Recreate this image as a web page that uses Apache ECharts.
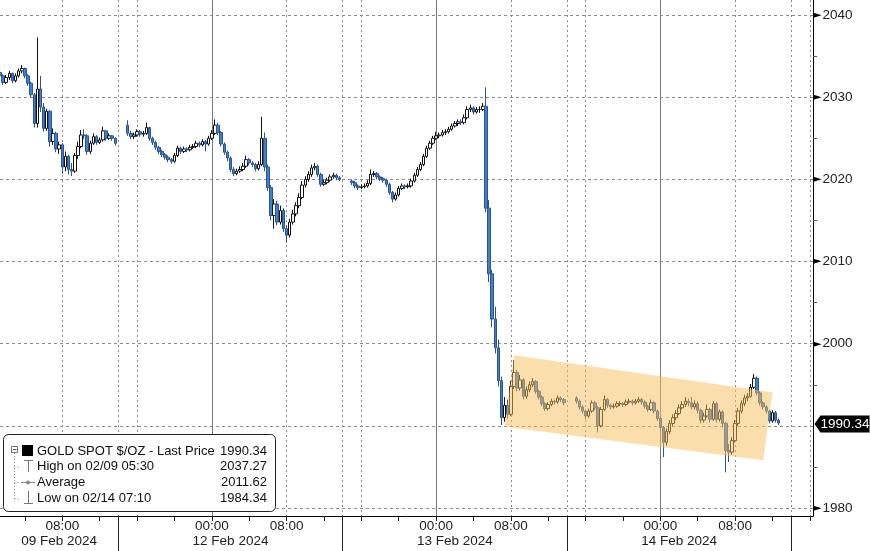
<!DOCTYPE html>
<html>
<head>
<meta charset="utf-8">
<script src="https://cdn.jsdelivr.net/npm/echarts@6/dist/echarts.min.js"></script>
<style>
html,body{margin:0;padding:0;background:#fff;}
#chart{width:870px;height:551px;}
</style>
</head>
<body>
<div id="chart"></div>
<script>
// ---------------- DATA ----------------
// 20-minute OHLC bars, [open, close, low, high]; times are US Pacific (weekend collapsed)
const feb09Start = '02/09 01:20';
const feb09Bars = [
[2033.0,2032.6,2032.2,2033.4],[2032.6,2031.8,2031.5,2032.8],[2031.8,2032.4,2031.6,2032.7],[2032.4,2032.9,2032.1,2033.2],
[2032.9,2032.0,2031.7,2033.0],[2032.0,2032.6,2031.8,2032.9],[2032.6,2033.2,2032.4,2033.5],[2033.2,2033.5,2032.9,2033.9],
[2033.5,2032.6,2032.3,2033.6],[2032.6,2031.7,2031.4,2032.8],[2031.7,2030.3,2029.9,2031.9],[2030.3,2026.8,2026.3,2030.5],
[2026.8,2031.0,2026.3,2037.27],[2031.0,2028.8,2028.2,2032.6],[2028.8,2026.2,2025.8,2029.3],[2026.2,2028.3,2025.9,2028.6],
[2028.3,2024.6,2024.0,2028.4],[2024.6,2025.6,2024.2,2026.2],[2025.6,2023.7,2023.3,2025.8],[2023.7,2024.2,2023.1,2024.6],
[2024.2,2021.5,2020.7,2024.4],[2021.5,2022.8,2021.0,2023.4],[2022.8,2021.2,2020.6,2023.0],[2021.2,2021.0,2020.4,2022.0],
[2021.0,2022.9,2020.8,2023.2],[2022.9,2024.0,2022.5,2024.6],[2024.0,2025.4,2023.8,2026.0],[2025.4,2025.3,2024.9,2026.1],
[2025.3,2023.4,2023.0,2025.5],[2023.4,2024.4,2023.1,2024.7],[2024.4,2025.2,2024.2,2025.6],[2025.2,2024.5,2024.2,2025.4],
[2024.5,2024.8,2024.3,2025.1],[2024.8,2025.9,2024.6,2026.4],[2025.9,2025.0,2024.7,2026.0],[2025.0,2025.3,2024.8,2025.6],
[2025.3,2025.0,2024.7,2025.4],[2025.0,2024.4,2024.1,2025.1]
];
const feb12Start = '02/11 15:00';
const feb12Bars = [
[2026.6,2025.6,2025.3,2027.2],[2025.6,2025.2,2024.9,2025.9],[2025.2,2025.4,2024.9,2025.7],[2025.4,2025.8,2025.2,2026.1],
[2025.8,2025.5,2025.2,2026.0],[2025.5,2025.6,2025.2,2025.9],[2025.6,2026.3,2025.4,2026.9],[2026.3,2025.0,2024.7,2026.4],
[2025.0,2024.5,2024.2,2025.2],[2024.5,2023.9,2023.6,2024.7],[2023.9,2023.4,2023.1,2024.1],[2023.4,2023.0,2022.7,2023.6],
[2023.0,2022.7,2022.4,2023.2],[2022.7,2022.4,2022.1,2022.9],[2022.4,2022.2,2021.9,2022.6],[2022.2,2022.9,2022.0,2023.2],
[2022.9,2023.8,2022.7,2024.1],[2023.8,2023.4,2023.1,2024.0],[2023.4,2023.7,2023.2,2024.0],[2023.7,2023.6,2023.3,2023.9],
[2023.6,2023.9,2023.4,2024.2],[2023.9,2024.0,2023.7,2024.3],[2024.0,2024.4,2023.8,2024.7],[2024.4,2024.2,2023.9,2024.6],
[2024.2,2024.6,2024.0,2024.9],[2024.6,2024.3,2023.4,2024.8],[2024.3,2025.0,2024.1,2025.3],[2025.0,2025.6,2024.8,2026.0],
[2025.6,2026.6,2025.4,2027.3],[2026.6,2025.7,2025.4,2026.9],[2025.7,2024.3,2024.0,2025.9],[2024.3,2023.3,2023.0,2024.5],
[2023.3,2022.6,2022.2,2023.5],[2022.6,2021.2,2020.9,2022.8],[2021.2,2020.7,2020.4,2021.5],[2020.7,2021.0,2020.5,2021.3],
[2021.0,2021.2,2020.8,2021.6],[2021.2,2021.6,2021.0,2022.0],[2021.6,2022.4,2021.4,2022.9],[2022.4,2022.0,2021.7,2022.6],
[2022.0,2021.8,2021.5,2022.2],[2021.8,2021.3,2021.0,2022.0],[2021.3,2021.8,2021.1,2022.2],[2021.8,2025.0,2021.6,2027.6],
[2025.0,2021.5,2021.0,2025.7],[2021.5,2019.0,2018.6,2021.8],[2019.0,2015.6,2015.0,2019.3],[2015.6,2017.0,2014.0,2017.6],
[2017.0,2014.8,2014.4,2017.4],[2014.8,2016.2,2014.5,2016.8],[2016.2,2014.0,2013.6,2016.5],[2014.0,2013.2,2012.3,2014.4],
[2013.2,2014.8,2012.9,2015.2],[2014.8,2015.8,2014.5,2016.3],[2015.8,2016.8,2015.5,2017.2],[2016.8,2017.8,2016.5,2018.3],
[2017.8,2019.3,2017.6,2019.8],[2019.3,2020.0,2019.0,2020.4],[2020.0,2020.6,2019.7,2021.0],[2020.6,2021.4,2020.3,2021.8],
[2021.4,2021.6,2021.1,2022.0],[2021.6,2020.6,2020.3,2021.8],[2020.6,2019.4,2019.1,2020.8],[2019.4,2019.6,2019.2,2020.0],
[2019.6,2019.9,2019.4,2020.2],[2019.9,2020.3,2019.7,2020.6],[2020.3,2020.5,2020.1,2020.8],[2020.5,2020.2,2019.9,2020.7],
[2020.2,2020.0,2019.8,2020.4]
];
const feb13Start = '02/12 15:00';
const feb13Bars = [
[2019.8,2019.6,2019.3,2020.0],[2019.6,2019.2,2018.9,2019.8],[2019.2,2019.0,2018.7,2019.4],[2019.0,2019.1,2018.8,2019.4],
[2019.1,2019.2,2018.9,2019.5],[2019.2,2019.5,2019.0,2019.9],[2019.5,2020.6,2019.3,2021.2],[2020.6,2020.7,2020.3,2021.0],
[2020.7,2020.3,2020.0,2020.9],[2020.3,2020.1,2019.8,2020.5],[2020.1,2019.9,2019.6,2020.3],[2019.9,2019.4,2019.1,2020.1],
[2019.4,2018.4,2018.1,2019.6],[2018.4,2017.6,2017.2,2018.6],[2017.6,2018.1,2017.4,2018.4],[2018.1,2018.9,2017.9,2019.2],
[2018.9,2019.2,2018.7,2019.5],[2019.2,2019.1,2018.8,2019.4],[2019.1,2019.2,2018.9,2019.5],[2019.2,2019.8,2019.0,2020.1],
[2019.8,2020.5,2019.6,2020.8],[2020.5,2021.2,2020.3,2021.5],[2021.2,2021.8,2021.0,2022.1],[2021.8,2022.8,2021.6,2023.1],
[2022.8,2023.8,2022.6,2024.1],[2023.8,2024.4,2023.6,2024.7],[2024.4,2025.0,2024.2,2025.3],[2025.0,2025.3,2024.8,2025.8],
[2025.3,2025.4,2025.0,2025.7],[2025.4,2025.7,2025.2,2026.0],[2025.7,2025.8,2025.4,2026.1],[2025.8,2026.1,2025.6,2026.4],
[2026.1,2026.5,2025.9,2026.8],[2026.5,2026.8,2026.3,2027.1],[2026.8,2027.0,2026.5,2027.3],[2027.0,2026.9,2026.6,2027.3],
[2026.9,2027.5,2026.7,2027.9],[2027.5,2028.5,2027.3,2028.9],[2028.5,2028.7,2028.2,2029.1],[2028.7,2028.2,2027.9,2028.9],
[2028.2,2028.5,2028.0,2028.8],[2028.5,2028.5,2028.1,2028.9],[2028.5,2028.9,2028.3,2029.3],[2028.9,2016.5,2016.0,2031.2],
[2016.5,2008.5,2007.5,2017.5],[2008.5,2003.0,2002.0,2009.0],[2003.0,1999.5,1998.8,2004.5],[1999.5,1995.5,1994.8,2000.5],
[1995.5,1991.0,1990.1,1996.0],[1991.0,1992.5,1990.5,1993.5],[1992.5,1991.4,1990.9,1993.2],[1991.4,1994.8,1991.2,1995.5],
[1994.8,1996.5,1994.5,1998.0],[1996.5,1994.6,1994.2,1996.8],[1994.6,1995.6,1994.3,1996.2],[1995.6,1993.6,1993.2,1995.8],
[1993.6,1994.4,1993.3,1994.8],[1994.4,1995.0,1994.1,1995.4],[1995.0,1995.4,1994.7,1995.8],[1995.4,1994.2,1993.9,1995.6],
[1994.2,1993.5,1993.2,1994.4],[1993.5,1992.7,1992.4,1993.7],[1992.7,1992.1,1991.8,1992.9],[1992.1,1992.6,1991.9,1992.9],
[1992.6,1993.0,1992.4,1993.3],[1993.0,1992.9,1992.6,1993.2],[1992.9,1993.4,1992.7,1993.7],[1993.4,1993.2,1992.9,1993.6],
[1993.2,1992.8,1992.5,1993.4]
];
const feb14Start = '02/13 15:00';
const feb14Bars = [
[1993.4,1993.0,1992.7,1993.6],[1993.0,1992.3,1992.0,1993.2],[1992.3,1991.8,1991.5,1992.5],[1991.8,1991.2,1990.8,1992.0],
[1991.2,1991.8,1991.0,1992.1],[1991.8,1992.8,1991.6,1993.1],[1992.8,1992.2,1991.9,1993.0],[1992.2,1990.0,1989.2,1992.4],
[1990.0,1992.0,1989.8,1992.3],[1992.0,1993.2,1991.8,1993.7],[1993.2,1992.5,1992.2,1993.4],[1992.5,1992.3,1992.0,1992.7],
[1992.3,1992.4,1992.1,1992.7],[1992.4,1992.7,1992.2,1993.0],[1992.7,1992.7,1992.4,1993.0],[1992.7,1992.6,1992.3,1992.9],
[1992.6,1992.9,1992.4,1993.2],[1992.9,1993.0,1992.7,1993.3],[1993.0,1992.8,1992.5,1993.2],[1992.8,1993.0,1992.6,1993.3],
[1993.0,1993.2,1992.8,1993.5],[1993.2,1992.9,1992.6,1993.4],[1992.9,1992.4,1992.1,1993.1],[1992.4,1992.0,1991.7,1992.6],
[1992.0,1992.8,1991.8,1993.2],[1992.8,1991.8,1991.5,1993.0],[1991.8,1990.9,1990.6,1992.0],[1990.9,1989.8,1989.4,1991.1],
[1989.8,1988.0,1986.2,1990.0],[1988.0,1989.3,1987.6,1989.7],[1989.3,1990.3,1989.0,1990.7],[1990.3,1991.0,1990.0,1991.4],
[1991.0,1991.5,1990.7,1991.9],[1991.5,1992.2,1991.3,1992.6],[1992.2,1992.6,1992.0,1993.0],[1992.6,1993.0,1992.3,1993.5],
[1993.0,1992.8,1992.4,1993.3],[1992.8,1992.3,1992.0,1993.5],[1992.3,1992.7,1992.0,1993.1],[1992.7,1991.9,1991.5,1993.0],
[1991.9,1990.7,1990.3,1992.1],[1990.7,1991.2,1990.4,1991.6],[1991.2,1992.0,1991.0,1992.6],[1992.0,1990.8,1990.4,1992.2],
[1990.8,1992.7,1990.6,1993.0],[1992.7,1990.8,1990.4,1992.9],[1990.8,1991.7,1990.5,1992.0],[1991.7,1990.3,1989.8,1991.9],
[1990.3,1987.0,1984.34,1990.5],[1987.0,1986.8,1985.6,1987.8],[1986.8,1988.2,1986.5,1988.6],[1988.2,1990.3,1988.0,1990.7],
[1990.3,1991.8,1990.0,1992.2],[1991.8,1992.7,1991.5,1993.1],[1992.7,1993.4,1992.4,1993.8],[1993.4,1993.6,1993.0,1994.0],
[1993.6,1994.7,1993.4,1995.1],[1994.7,1995.8,1994.5,1996.3],[1995.8,1994.0,1993.7,1996.0],[1994.0,1992.8,1992.5,1994.2],
[1992.8,1992.3,1992.0,1993.0],[1992.3,1991.8,1991.5,1992.5],[1991.8,1990.6,1990.3,1992.0],[1990.6,1991.6,1990.4,1991.9],
[1991.6,1990.7,1990.4,1991.8],[1990.7,1990.34,1990.1,1990.9]
];
const lastPrice = 1990.34;
const legendRows = [
  {label: 'GOLD SPOT $/OZ - Last Price', value: '1990.34'},
  {label: 'High on 02/09 05:30', value: '2037.27'},
  {label: 'Average', value: '2011.62'},
  {label: 'Low on 02/14 07:10', value: '1984.34'}
];
const yTickLabels = [1980, 2000, 2010, 2020, 2030, 2040];
const timeTickLabels = ['00:00', '08:00'];
const dateLabels = {'02/09 07:40': '09 Feb 2024', '02/12 02:00': '12 Feb 2024', '02/13 02:00': '13 Feb 2024', '02/14 02:00': '14 Feb 2024'};
// shaded channel corners [time, price]
const channel = [['02/13 08:20', 1998.6], ['02/14 12:00', 1994.1], ['02/14 11:00', 1985.8], ['02/13 07:20', 1989.9]];

// ---------------- CATEGORIES (20-min slots, weekend collapsed) ----------------
const categories = [];
for (let k = 0; k < 262; k++) {
  const m = 80 + 20 * k;
  let day, hm;
  if (m < 840) { day = '02/09'; hm = m; }
  else if (m < 1440) { day = '02/11'; hm = m; }
  else { const d = Math.floor((m - 1440) / 1440); day = ['02/12', '02/13', '02/14'][d]; hm = m - 1440 - 1440 * d; }
  const hh = Math.floor(hm / 60), mm = hm % 60;
  categories.push(day + ' ' + String(hh).padStart(2, '0') + ':' + String(mm).padStart(2, '0'));
}
const candles = categories.map(() => ['-', '-', '-', '-']);
[[feb09Start, feb09Bars], [feb12Start, feb12Bars], [feb13Start, feb13Bars], [feb14Start, feb14Bars]].forEach(([s, bars]) => {
  const i0 = categories.indexOf(s);
  bars.forEach((b, j) => { candles[i0 + j] = b; });
});

const FF = "'Liberation Sans', Arial, sans-serif";
const hourOf = v => parseInt(v.slice(6, 8), 10);
const minOf = v => parseInt(v.slice(9, 11), 10);

const chart = echarts.init(document.getElementById('chart'), null, {renderer: 'canvas'});

const legendGraphics = [];
legendGraphics.push({type: 'rect', shape: {x: 3.5, y: 434.5, width: 272, height: 77, r: 5}, style: {fill: '#fff', stroke: '#222', lineWidth: 1}, z: 100});
const rowY = [451, 466.5, 482, 498];
legendRows.forEach((r, i) => {
  legendGraphics.push({type: 'text', x: 37, y: rowY[i], style: {text: r.label, fill: '#111', font: '13px ' + FF, verticalAlign: 'middle', align: 'left'}, z: 101});
  legendGraphics.push({type: 'text', x: 267, y: rowY[i], style: {text: r.value, fill: '#111', font: '13px ' + FF, verticalAlign: 'middle', align: 'right'}, z: 101});
});
// tree / icons
legendGraphics.push({type: 'line', shape: {x1: 14.5, y1: 453, x2: 14.5, y2: 499}, style: {stroke: '#888', lineWidth: 1, lineDash: [1, 2]}, z: 101});
[467, 482.5, 499].forEach(y => legendGraphics.push({type: 'line', shape: {x1: 14.5, y1: y, x2: 20, y2: y}, style: {stroke: '#888', lineWidth: 1, lineDash: [1, 2]}, z: 101}));
legendGraphics.push({type: 'rect', shape: {x: 11.5, y: 446.5, width: 6, height: 6}, style: {fill: '#fff', stroke: '#777', lineWidth: 1}, z: 102});
legendGraphics.push({type: 'line', shape: {x1: 13, y1: 449.5, x2: 16.5, y2: 449.5}, style: {stroke: '#555', lineWidth: 1}, z: 103});
legendGraphics.push({type: 'rect', shape: {x: 22, y: 445, width: 11, height: 11}, style: {fill: '#000'}, z: 102});
legendGraphics.push({type: 'line', shape: {x1: 28.5, y1: 460, x2: 28.5, y2: 472}, style: {stroke: '#777', lineWidth: 1}, z: 102});
legendGraphics.push({type: 'line', shape: {x1: 24, y1: 460.5, x2: 33, y2: 460.5}, style: {stroke: '#777', lineWidth: 1}, z: 102});
legendGraphics.push({type: 'line', shape: {x1: 21, y1: 482.5, x2: 35, y2: 482.5}, style: {stroke: '#888', lineWidth: 1}, z: 102});
legendGraphics.push({type: 'circle', shape: {cx: 28, cy: 482.5, r: 2}, style: {fill: '#888'}, z: 102});
legendGraphics.push({type: 'line', shape: {x1: 28.5, y1: 491, x2: 28.5, y2: 503}, style: {stroke: '#777', lineWidth: 1}, z: 102});
legendGraphics.push({type: 'line', shape: {x1: 24, y1: 503.5, x2: 33, y2: 503.5}, style: {stroke: '#777', lineWidth: 1}, z: 102});

const option = {
  animation: false,
  backgroundColor: '#fff',
  grid: {left: 0, right: 57, top: 0, bottom: 35, containLabel: false},
  xAxis: [
    {
      type: 'category', data: categories, boundaryGap: false,
      axisLine: {show: true, lineStyle: {color: '#000', width: 1}},
      axisTick: {show: true, length: 5, interval: (i, v) => minOf(v) === 0 && hourOf(v) % 4 === 0, lineStyle: {color: '#222'}},
      axisLabel: {interval: (i, v) => timeTickLabels.includes(v.slice(6)) && !v.startsWith('02/11'), formatter: v => v.slice(6), margin: 3, fontSize: 13.5, color: '#222', fontFamily: FF},
      splitLine: {show: true, interval: (i, v) => minOf(v) === 0 && [8, 14, 16].includes(hourOf(v)), lineStyle: {type: [2, 3], color: '#8c8c8c', width: 1}}
    },
    {
      type: 'category', data: categories, boundaryGap: false, position: 'bottom',
      axisLine: {show: false},
      axisTick: {show: true, length: 35, interval: (i, v) => v.endsWith(' 14:00'), lineStyle: {color: '#222'}},
      axisLabel: {interval: (i, v) => dateLabels[v] !== undefined, formatter: v => dateLabels[v] || '', margin: 18, fontSize: 13.5, color: '#222', fontFamily: FF},
      splitLine: {show: true, interval: (i, v) => v.endsWith(' 00:00'), lineStyle: {type: 'solid', color: '#7a7a7a', width: 1}}
    }
  ],
  yAxis: {
    type: 'value', position: 'right', min: 1979.03, max: 2041.83, splitNumber: 6, minInterval: 10, maxInterval: 10, scale: true,
    axisLine: {show: true, lineStyle: {color: '#000', width: 1}},
    axisTick: {show: false},
    minorTick: {show: true, splitNumber: 2, length: 4, lineStyle: {color: '#555'}},
    minorSplitLine: {show: false},
    axisLabel: {
      margin: 0, showMinLabel: false, showMaxLabel: false,
      formatter: v => yTickLabels.includes(v) ? '{a|\u25BA}{b|' + v + '}' : '',
      rich: {a: {fontSize: 11, color: '#000', fontFamily: 'DejaVu Sans', padding: [0, 1, 0, 0]}, b: {fontSize: 13.5, color: '#222', fontFamily: FF}}
    },
    splitLine: {show: true, showMinLine: false, showMaxLine: false, lineStyle: {type: [3, 3], color: '#8c8c8c', width: 1}}
  },
  graphic: legendGraphics,
  series: [
    {
      type: 'candlestick', xAxisIndex: 0, yAxisIndex: 0, data: candles, barWidth: 3, clip: false,
      itemStyle: {color: '#ffffff', color0: '#3f7fd2', borderColor: '#111111', borderColor0: '#2a5590', borderWidth: 1},
      markPoint: {
        silent: true, symbol: 'path://M0,8L6,0L55,0L55,16L6,16Z', symbolSize: [55, 17], symbolOffset: [29, 1],
        itemStyle: {color: '#000'},
        label: {show: true, position: 'inside', formatter: String(lastPrice), color: '#fff', fontSize: 13.5, fontFamily: FF, offset: [3, 0]},
        data: [{coord: [categories.length - 1, lastPrice]}]
      }
    },
    {
      type: 'custom', xAxisIndex: 0, yAxisIndex: 0, z: 3, silent: true, clip: false, data: [0],
      renderItem: (params, api) => ({
        type: 'polygon',
        shape: {points: channel.map(c => api.coord([categories.indexOf(c[0]), c[1]]))},
        style: {fill: 'rgba(245,190,90,0.5)'}
      })
    }
  ]
};
chart.setOption(option);
</script>
</body>
</html>
